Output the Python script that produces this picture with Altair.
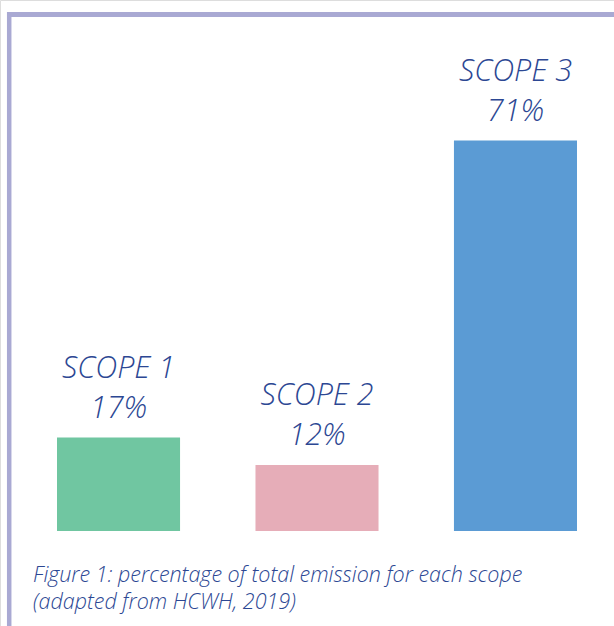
import altair as alt
import pandas as pd

scopes = ["SCOPE 1", "SCOPE 2", "SCOPE 3"]
shares = [17, 12, 71]
colors = ["#70c6a1", "#e6adb8", "#5b9bd4"]
caption_line1 = "Figure 1: percentage of total emission for each scope"
caption_line2 = "(adapted from HCWH, 2019)"

df = pd.DataFrame({"scope": scopes, "share": shares, "color": colors})
df["pct"] = df["share"].astype(str) + "%"
one = pd.DataFrame({"k": [0]})

FONT = "Open Sans"
TXT = "#2c4793"
BORDER = "#a9a9d3"

x = alt.X("scope:N", sort=scopes, axis=None,
          scale=alt.Scale(range=[57, 577], paddingInner=0.38, paddingOuter=0))
y = alt.Y("share:Q", axis=None, scale=alt.Scale(domain=[0, 80], range=[531, 91]))

base = alt.Chart(df)
bars = base.mark_bar().encode(x=x, y=y, color=alt.Color("color:N", scale=None, legend=None))
lab1 = base.mark_text(font=FONT, fontSize=30.5, fontStyle="italic", fontWeight=300, color=TXT,
                      baseline="alphabetic", dy=-60).encode(x=x, y=y, text="scope:N")
lab2 = base.mark_text(font=FONT, fontSize=30.5, fontStyle="italic", fontWeight=300, color=TXT,
                      baseline="alphabetic", dy=-20).encode(x=x, y=y, text="pct:N")

top = alt.Chart(one).mark_rule(color=BORDER, strokeWidth=5).encode(
    x=alt.value(7), x2=alt.value(614), y=alt.value(14.5))
left = alt.Chart(one).mark_rule(color=BORDER, strokeWidth=4.5).encode(
    x=alt.value(9.2), y=alt.value(12), y2=alt.value(626))

capstyle = dict(font=FONT, fontSize=21.5, fontStyle="italic", fontWeight=300,
                color=TXT, align="left", baseline="alphabetic")
cap1 = alt.Chart(one).mark_text(text=caption_line1, **capstyle).encode(
    x=alt.value(33), y=alt.value(582))
cap2 = alt.Chart(one).mark_text(text=caption_line2, **capstyle).encode(
    x=alt.value(33), y=alt.value(609))

chart = alt.layer(bars, lab1, lab2, top, left, cap1, cap2).properties(
    width=614, height=626, padding=0, autosize=alt.AutoSizeParams(type="none")
).configure_view(stroke=None).configure(background="white")

chart.save("out.html", embed_options={"renderer": "svg", "actions": False})
